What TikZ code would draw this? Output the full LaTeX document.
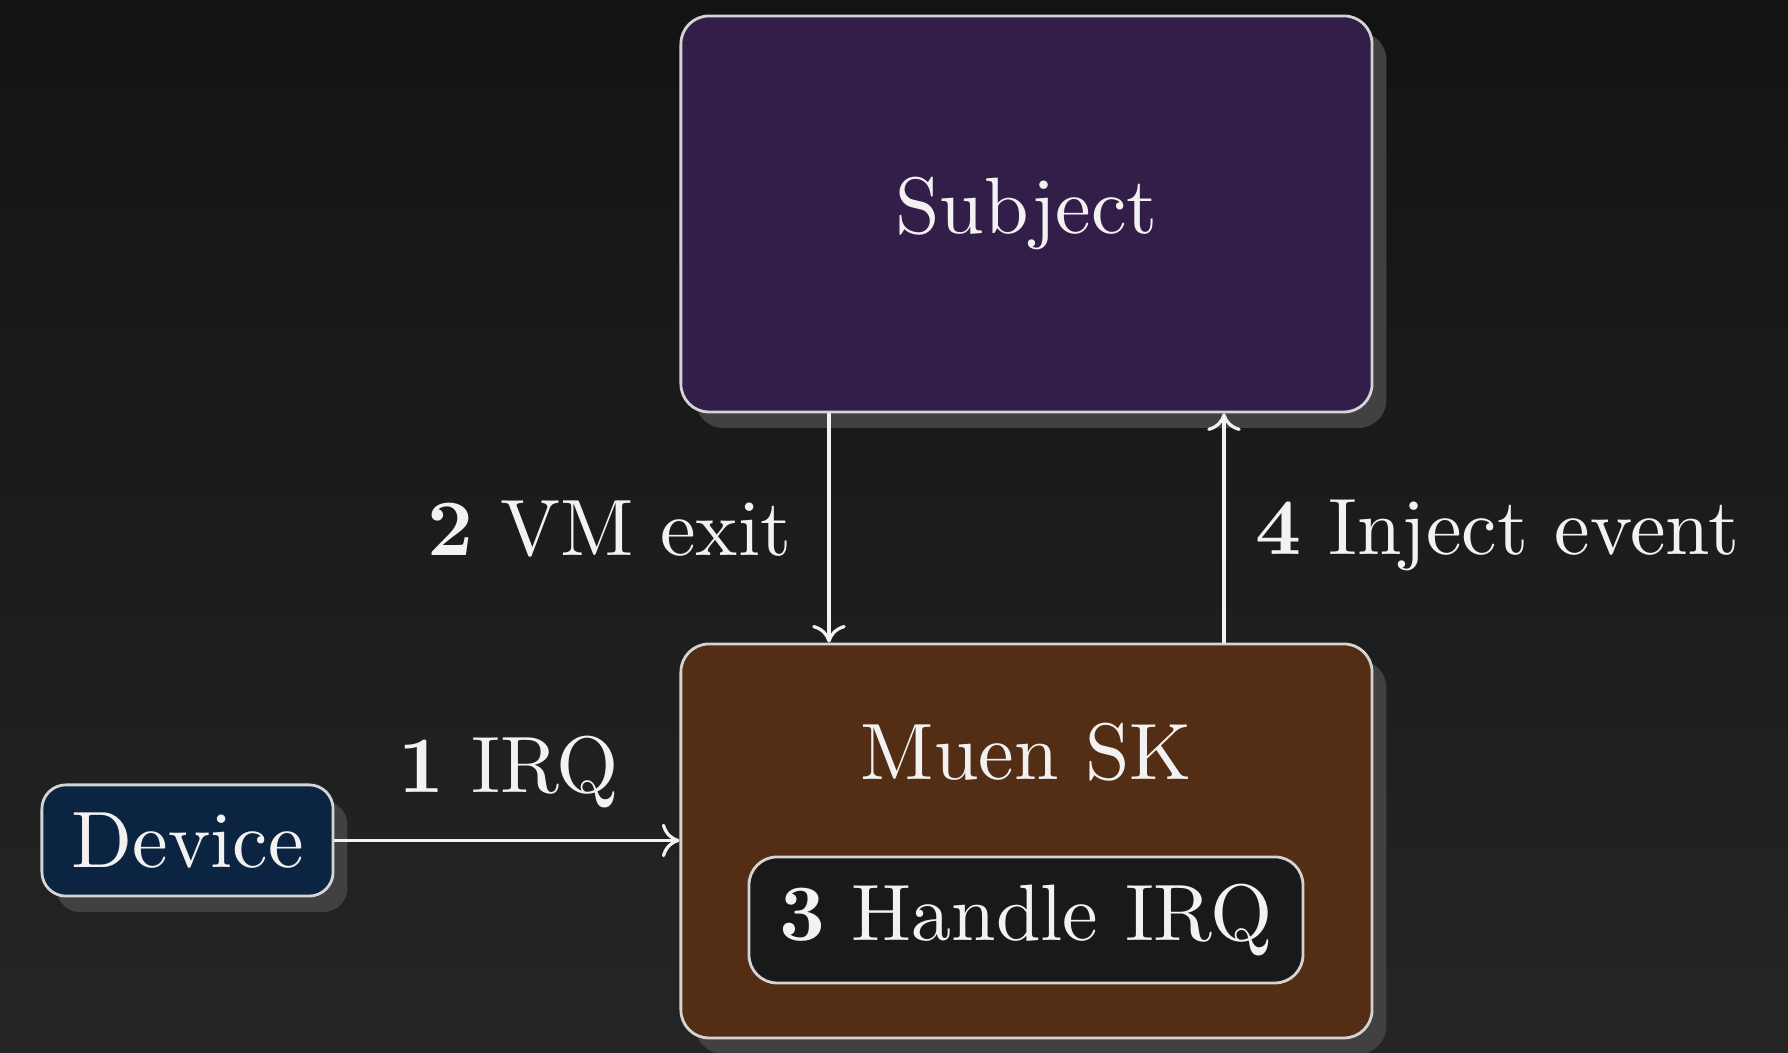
\documentclass[tikz,border=0pt]{standalone}
\usetikzlibrary{shadows,arrows.meta}

\definecolor{bgtop}{HTML}{131313}
\definecolor{bgbottom}{HTML}{252525}
\definecolor{subjfill}{HTML}{321E48}
\definecolor{muenfill}{HTML}{532E15}
\definecolor{devfill}{HTML}{0B2441}
\definecolor{handlefill}{HTML}{191919}
\definecolor{edgegray}{HTML}{D4D4D4}
\definecolor{shadowgray}{HTML}{414141}
\definecolor{ink}{HTML}{F2F2F2}

\begin{document}
\begin{tikzpicture}[x=0.125pt,y=-0.125pt,
  plainbox/.style={draw=edgegray, line width=0.35pt, rounded corners=3.5pt,
    text=ink, inner sep=0pt},
  box/.style={plainbox,
    drop shadow={shadow xshift=1.8pt, shadow yshift=-2pt, fill=shadowgray, opacity=1}},
  txt/.style={text=ink, inner sep=0pt},
  flow/.style={draw=ink, line width=0.4pt, -{To[length=2.2pt,width=4.2pt]}}]

% canvas and background
\useasboundingbox (0,0) rectangle (1788,1053);
\shade[top color=bgtop, bottom color=bgbottom] (0,0) rectangle (1788,1053);

% components
\node[box, fill=subjfill, minimum width=86.4pt, minimum height=49.5pt]
  (subject) at (1026.5,214) {Subject};
\node[box, fill=muenfill, minimum width=86.4pt, minimum height=49.25pt]
  (muen) at (1026.5,841) {};
\node[txt, anchor=base] (muentitle) at (1026.5,780) {Muen SK};
\node[plainbox, fill=handlefill, minimum width=69.25pt, minimum height=15.75pt]
  (handle) at (1026,920) {\textbf{3} Handle IRQ};
\node[box, fill=devfill, rounded corners=3pt, minimum width=36.4pt, minimum height=13.9pt]
  (device) at (187.5,840.5) {Device};

% step labels
\node[txt, anchor=base west] (irqlabel) at (397,793) {\textbf{1} IRQ};
\node[txt, anchor=base east] (exitlabel) at (793,556) {\textbf{2} VM exit};
\node[txt, anchor=base west] (injectlabel) at (1254,555) {\textbf{4} Inject event};

% connectors
\coordinate (exitx) at (829,0);
\coordinate (injx) at (1224,0);
\draw[flow] (device.east) -- (device.east -| muen.west);
\draw[flow] (exitx |- subject.south) -- (exitx |- muen.north);
\draw[flow] (injx |- muen.north) -- (injx |- subject.south);
\end{tikzpicture}
\end{document}
